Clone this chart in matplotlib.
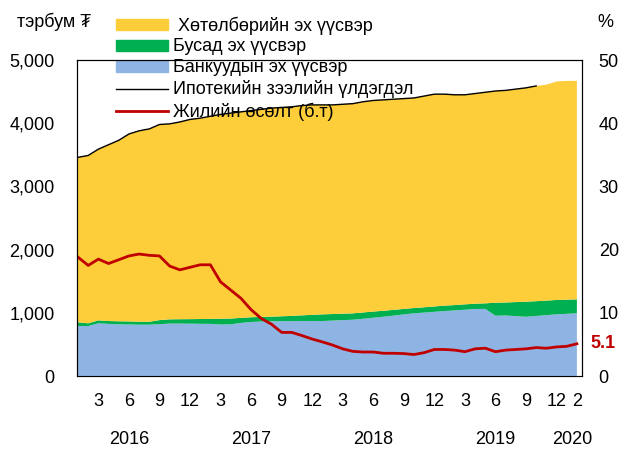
import pandas as pd
import numpy as np
import matplotlib
matplotlib.use("Agg")
import matplotlib.pyplot as plt
from matplotlib.patches import Patch
from matplotlib.lines import Line2D
from matplotlib.transforms import blended_transform_factory

plt.rcParams['font.family'] = ['Liberation Sans', 'DejaVu Sans']

# monthly data, 2016-01 .. 2020-02 (billion MNT, %)
months = pd.date_range("2016-01-01", periods=50, freq="MS")
bank = [791, 791, 834, 825, 818, 815, 812, 812, 820, 830, 830, 828, 826, 825, 815, 818, 840, 855,
        862, 866, 868, 869, 870, 871, 870, 877, 884, 891, 906, 922, 938, 956, 974, 992, 1004, 1016,
        1028, 1038, 1049, 1060, 1062, 954, 958, 948, 938, 950, 963, 976, 984, 992]
other = [59, 43, 47, 45, 48, 49, 48, 47, 65, 67, 69, 72, 76, 79, 91, 92, 80, 75,
         73, 74, 77, 83, 90, 97, 106, 104, 103, 101, 100, 98, 95, 91, 88, 84, 84, 85,
         85, 85, 85, 84, 88, 206, 206, 222, 238, 234, 231, 227, 224, 221]
program = [2610, 2656, 2709, 2790, 2864, 2966, 3020, 3051, 3095, 3093, 3121, 3160, 3178, 3206, 3234,
           3250, 3260, 3270, 3285, 3300, 3305, 3308, 3320, 3322, 3314, 3309, 3313, 3318, 3334, 3340,
           3337, 3333, 3328, 3324, 3342, 3359, 3347, 3327, 3316, 3326, 3340, 3350, 3356, 3370, 3384,
           3406, 3416, 3457, 3462, 3457]
balance = [3460, 3490, 3590, 3660, 3730, 3830, 3880, 3910, 3980, 3990, 4020, 4060, 4080, 4110, 4140,
           4160, 4180, 4200, 4220, 4240, 4250, 4260, 4280, 4290, 4290, 4290, 4300, 4310, 4340, 4360,
           4370, 4380, 4390, 4400, 4430, 4460, 4460, 4450, 4450, 4470, 4490, 4510, 4520, 4540, 4560,
           4590, np.nan, np.nan, np.nan, np.nan]
growth = [18.8, 17.5, 18.5, 17.8, 18.4, 19.0, 19.3, 19.1, 19.0, 17.4, 16.8, 17.2, 17.6, 17.6, 14.9,
          13.6, 12.3, 10.5, 9.1, 8.2, 6.9, 6.9, 6.4, 5.85, 5.4, 4.9, 4.3, 3.9, 3.8, 3.8,
          3.6, 3.6, 3.55, 3.4, 3.7, 4.2, 4.2, 4.1, 3.85, 4.3, 4.4, 3.85, 4.1, 4.2, 4.3,
          4.5, 4.4, 4.6, 4.7, 5.1]

labels = [" Хөтөлбөрийн эх үүсвэр", "Бусад эх үүсвэр", "Банкуудын эх үүсвэр",
          "Ипотекийн зээлийн үлдэгдэл", "Жилийн өсөлт (б.т)"]
left_ticks = [0, 1000, 2000, 3000, 4000, 5000]
left_ticklabels = ["0", "1,000", "2,000", "3,000", "4,000", "5,000"]
right_ticks = [0, 10, 20, 30, 40, 50]
years = ["2016", "2017", "2018", "2019", "2020"]
year_pos = [5, 17, 29, 41, 48.5]

yellow = "#FDCD3A"
green = "#00B050"
blue = "#8EB4E3"
red = "#C00000"

x = np.arange(len(months))
tick_idx = [i for i, d in enumerate(months) if d.month in (3, 6, 9, 12)] + [len(months) - 1]
tick_lab = [str(months[i].month) for i in tick_idx]

fig = plt.figure(figsize=(6.19, 4.5), dpi=100)
ax = fig.add_axes([0.1244, 0.1644, 0.8158, 0.7022])
ax.stackplot(x, bank, other, program, colors=[blue, green, yellow], linewidth=0, zorder=1)
ax.plot(x, balance, color="black", lw=1, zorder=2)
ax.set_xlim(-0.1, 49.5)
ax.set_ylim(0, 5000)
ax.set_yticks(left_ticks)
ax.set_yticklabels(left_ticklabels)
ax.set_xticks(tick_idx)
ax.set_xticklabels(tick_lab)
ax.tick_params(axis="y", length=0, pad=16, labelsize=13)
ax.tick_params(axis="x", length=0, pad=12, labelsize=13)
ax.spines["bottom"].set_color("#8090a8")

ax2 = ax.twinx()
ax2.plot(x, growth, color=red, lw=2)
ax2.set_ylim(0, 50)
ax2.set_yticks(right_ticks)
ax2.tick_params(axis="y", length=0, pad=12, labelsize=13)

trans = blended_transform_factory(ax.transData, ax.transAxes)
for yr, p in zip(years, year_pos):
    ax.text(p, -0.2, yr, transform=trans, ha="center", va="center", fontsize=13)

ax2.text(1.017, growth[-1] / 50, "5.1", transform=ax2.transAxes, color=red, fontsize=13,
         fontweight="bold", ha="left", va="center",
         bbox=dict(facecolor="white", edgecolor="none", pad=1))

fig.text(0.027, 0.951, "тэрбум ₮", fontsize=13, ha="left", va="center")
fig.text(0.965, 0.951, "%", fontsize=13, ha="left", va="center")

handles = [Patch(color=yellow), Patch(color=green), Patch(color=blue),
           Line2D([], [], color="black", lw=1), Line2D([], [], color=red, lw=2)]
leg = ax.legend(handles, labels, loc="upper left", bbox_to_anchor=(0.187, 0.964),
                bbox_transform=fig.transFigure, frameon=False, fontsize=13,
                handlelength=2.9, handleheight=0.55, handletextpad=0.28,
                labelspacing=0.22, borderpad=0, borderaxespad=0)
leg.set_zorder(1.5)

fig.savefig("out.png", dpi=100)
